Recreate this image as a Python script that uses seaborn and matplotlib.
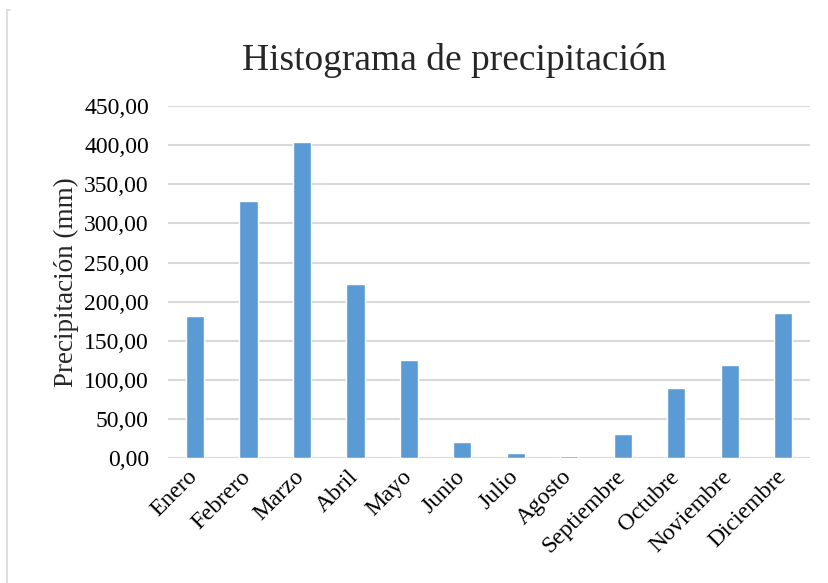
import pandas as pd
import seaborn as sns
import matplotlib.pyplot as plt
from matplotlib.ticker import FuncFormatter
from matplotlib.lines import Line2D
from matplotlib.transforms import ScaledTranslation

meses = ["Enero", "Febrero", "Marzo", "Abril", "Mayo", "Junio", "Julio",
         "Agosto", "Septiembre", "Octubre", "Noviembre", "Diciembre"]
precipitacion = [182, 329, 404, 222, 125, 21, 6, 2, 31, 89.5, 119, 185]

df = pd.DataFrame({"mes": meses, "pp": precipitacion})

sns.set_theme(style="white")
plt.rcParams["font.family"] = ["Liberation Serif", "DejaVu Serif"]

fig = plt.figure(figsize=(8.29, 5.83), dpi=100)
ax = fig.add_axes([0.203, 0.2144, 0.774, 0.6036])

sns.barplot(data=df, x="mes", y="pp", color="#5B9BD5", width=0.34,
            saturation=1, ax=ax, zorder=3)

ax.set_ylim(0, 450)
ax.set_yticks(range(0, 451, 50))
ax.yaxis.set_major_formatter(FuncFormatter(lambda v, p: f"{v:.2f}".replace(".", ",")))
ax.grid(axis="y", color="#D9D9D9", linewidth=1.5, zorder=0)
ax.set_axisbelow(True)
for s in ax.spines.values():
    s.set_visible(False)
ax.tick_params(axis="both", length=0, labelsize=17, colors="black")
ax.tick_params(axis="y", pad=14)
ax.tick_params(axis="x", pad=6)
desplaza = ScaledTranslation(-8 / 100, 0, fig.dpi_scale_trans)
for lab in ax.get_xticklabels():
    lab.set_rotation(45)
    lab.set_ha("right")
    lab.set_rotation_mode("anchor")
    lab.set_transform(lab.get_transform() + desplaza)

ax.set_xlabel("")
ax.set_ylabel("Precipitación (mm)", fontsize=19.5, labelpad=4)
ax.set_title("Histograma de precipitación", fontsize=27, pad=26, x=0.445)

# borde del grafico
fig.add_artist(Line2D([7 / 829, 7 / 829], [0, 1 - 10 / 583], color="#D9D9D9",
                      linewidth=1.2, transform=fig.transFigure))
fig.add_artist(Line2D([7 / 829, 10 / 829], [1 - 10 / 583, 1 - 10 / 583], color="#D9D9D9",
                      linewidth=1.2, transform=fig.transFigure))

fig.savefig("out.png", dpi=100)
